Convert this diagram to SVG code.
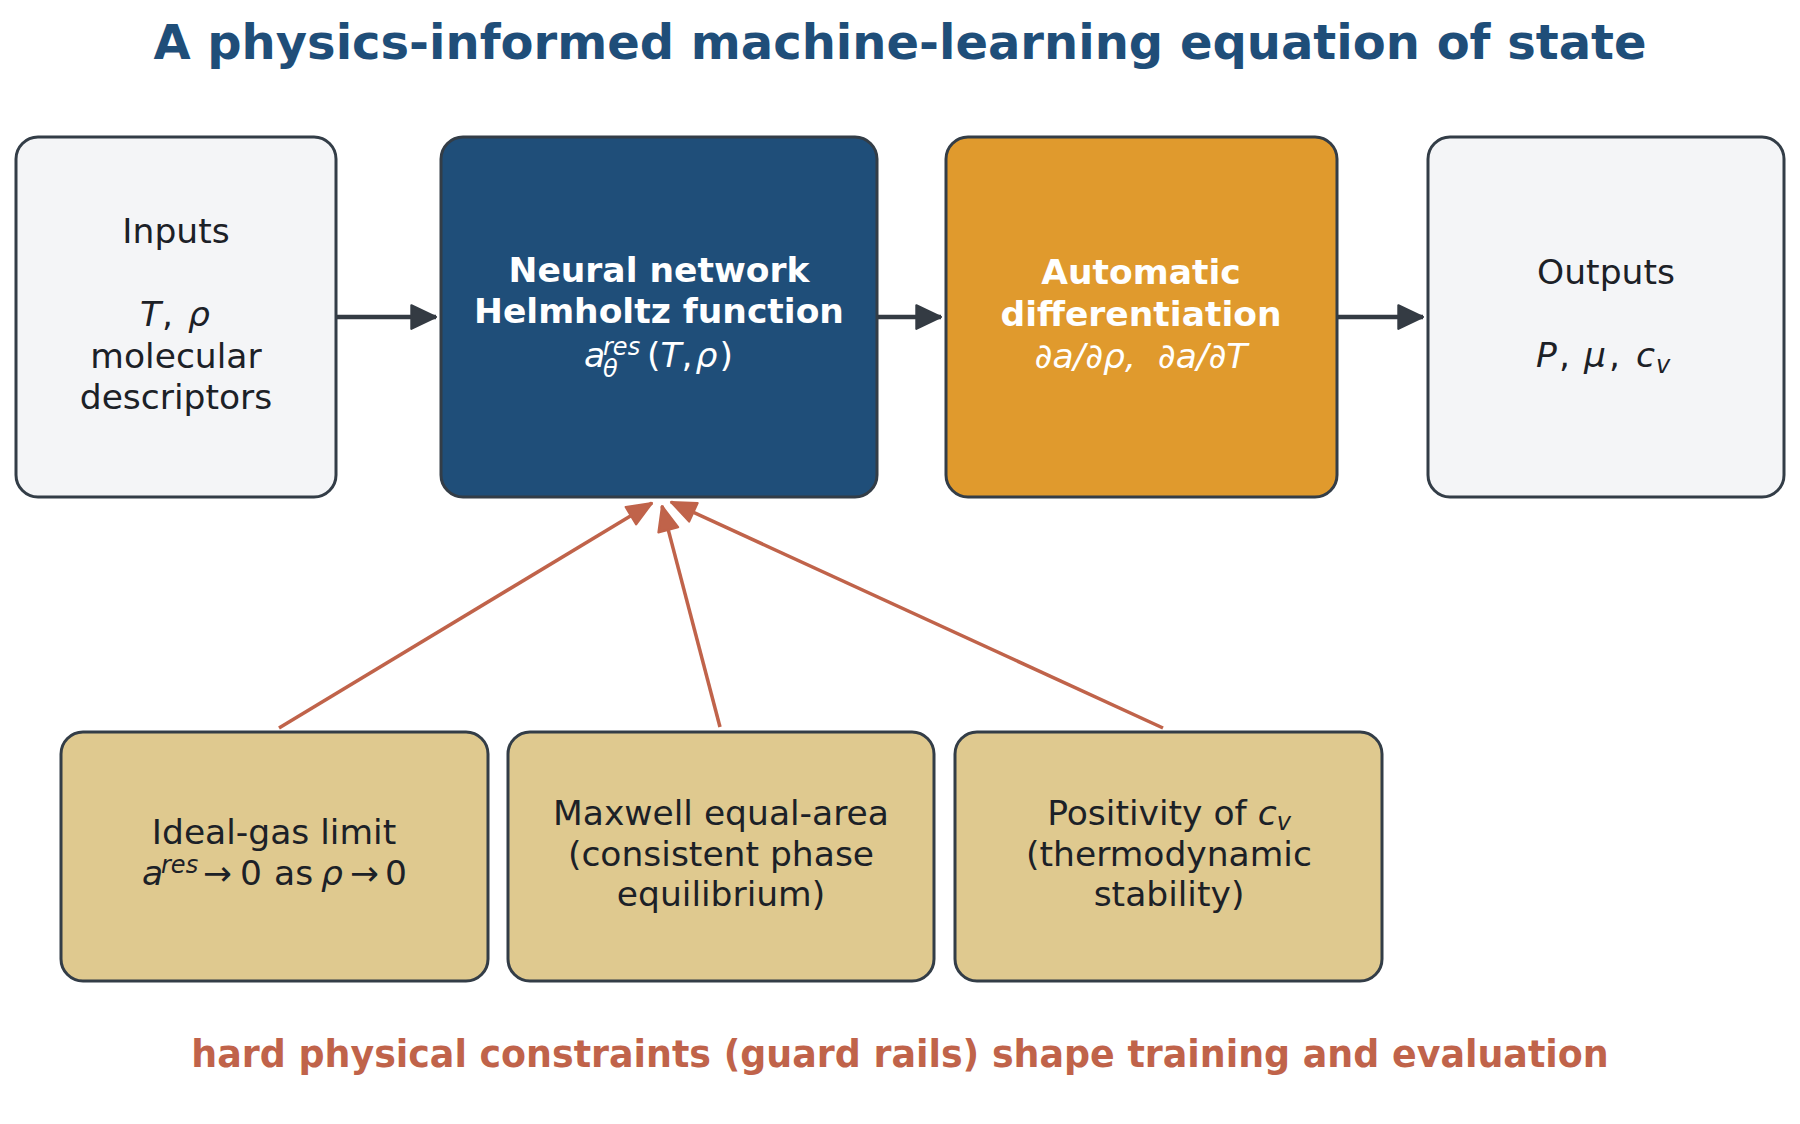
<svg xmlns="http://www.w3.org/2000/svg" width="1800" height="1124" viewBox="0 0 1800 1124">
<defs>
<style>
text{font-family:"DejaVu Sans","Liberation Sans",sans-serif;}
.box{stroke:#333d47;stroke-width:3;}
.light{fill:#f4f5f7;}
.navy{fill:#1f4e79;}
.amber{fill:#e09a2d;}
.tan{fill:#dfc98f;}
.t{font-size:34.5px;fill:#1c2127;}
.tw{font-size:34.5px;fill:#ffffff;}
.c{text-anchor:middle;}
.b{font-weight:bold;}
.i{font-style:italic;}
.s{font-size:24px;}
.dark{stroke:#343b43;stroke-width:4.5;fill:none;}
.red{stroke:#c0634a;stroke-width:3.5;fill:none;}
</style>
<marker id="hd" markerUnits="userSpaceOnUse" markerWidth="30" markerHeight="30" viewBox="-2 -13 28 26" refX="23" refY="0" orient="auto">
<path d="M0,-11 L23,0 L0,11 Z" fill="#343b43" stroke="#343b43" stroke-width="2" stroke-linejoin="round"/>
</marker>
<marker id="hr" markerUnits="userSpaceOnUse" markerWidth="30" markerHeight="30" viewBox="-2 -13 28 26" refX="23" refY="0" orient="auto">
<path d="M0,-9.5 L23,0 L0,9.5 Z" fill="#c0634a" stroke="#c0634a" stroke-width="2" stroke-linejoin="round"/>
</marker>
</defs>
<rect width="1800" height="1124" fill="#ffffff"/>
<text x="900" y="59" class="c b" font-size="48" fill="#1f4e79">A physics-informed machine-learning equation of state</text>

<g id="connectors">
<line class="dark" x1="336" y1="317" x2="436" y2="317" marker-end="url(#hd)"/>
<line class="dark" x1="877" y1="317" x2="941" y2="317" marker-end="url(#hd)"/>
<line class="dark" x1="1337" y1="317" x2="1423" y2="317" marker-end="url(#hd)"/>
<line class="red" x1="279" y1="728" x2="652" y2="503" marker-end="url(#hr)"/>
<line class="red" x1="720" y1="727" x2="662" y2="506" marker-end="url(#hr)"/>
<line class="red" x1="1163" y1="728" x2="671" y2="502" marker-end="url(#hr)"/>
</g>

<g id="inputs">
<rect class="box light" x="16" y="137" width="320" height="360" rx="22"/>
<text x="176" y="243" class="t c">Inputs</text>
<text y="326" class="t"><tspan x="140" class="i">T</tspan><tspan x="162">,</tspan><tspan x="188" class="i">ρ</tspan></text>
<text x="176" y="368" class="t c">molecular</text>
<text x="176" y="409" class="t c">descriptors</text>
</g>

<g id="neural-network">
<rect class="box navy" x="441" y="137" width="436" height="360" rx="22"/>
<text x="659" y="282" class="tw c b">Neural network</text>
<text x="659" y="323" class="tw c b">Helmholtz function</text>
<text y="367" class="tw"><tspan x="584" class="i">a</tspan><tspan x="603" y="355" class="i s">res</tspan><tspan x="603" y="377" class="i s">θ</tspan><tspan x="647" y="367">(</tspan><tspan class="i">T</tspan><tspan>,</tspan><tspan dx="3" class="i">ρ</tspan><tspan dx="2">)</tspan></text>
</g>

<g id="autodiff">
<rect class="box amber" x="946" y="137" width="391" height="360" rx="22"/>
<text x="1141" y="284" class="tw c b">Automatic</text>
<text x="1141" y="326" class="tw c b">differentiation</text>
<text x="1141" y="368" class="tw c i" xml:space="preserve">∂a/∂ρ,  ∂a/∂T</text>
</g>

<g id="outputs">
<rect class="box light" x="1428" y="137" width="356" height="360" rx="22"/>
<text x="1606" y="284" class="t c">Outputs</text>
<text y="367" class="t"><tspan x="1536" class="i">P</tspan><tspan x="1559">,</tspan><tspan x="1584" class="i">μ</tspan><tspan x="1609">,</tspan><tspan x="1636" class="i">c</tspan><tspan x="1656" y="373" class="i s">v</tspan></text>
</g>

<g id="ideal-gas">
<rect class="box tan" x="61" y="732" width="427" height="249" rx="22"/>
<text x="274" y="844" class="t c">Ideal-gas limit</text>
<text y="885" class="t"><tspan x="142" class="i">a</tspan><tspan x="161" y="873" class="i s">res</tspan><tspan x="203" y="885">→</tspan><tspan x="240">0</tspan><tspan x="274">as</tspan><tspan x="321" class="i">ρ</tspan><tspan x="350">→</tspan><tspan x="385">0</tspan></text>
</g>

<g id="maxwell">
<rect class="box tan" x="508" y="732" width="426" height="249" rx="22"/>
<text x="721" y="825" class="t c">Maxwell equal-area</text>
<text x="721" y="866" class="t c">(consistent phase</text>
<text x="721" y="906" class="t c">equilibrium)</text>
</g>

<g id="positivity">
<rect class="box tan" x="955" y="732" width="427" height="249" rx="22"/>
<text x="1169" y="825" class="t c">Positivity of <tspan class="i">c</tspan><tspan class="i s" dy="5">v</tspan></text>
<text x="1169" y="866" class="t c">(thermodynamic</text>
<text x="1169" y="906" class="t c">stability)</text>
</g>

<text x="900" y="1067" class="c b" font-size="36.4" fill="#c0634a">hard physical constraints (guard rails) shape training and evaluation</text>
</svg>
